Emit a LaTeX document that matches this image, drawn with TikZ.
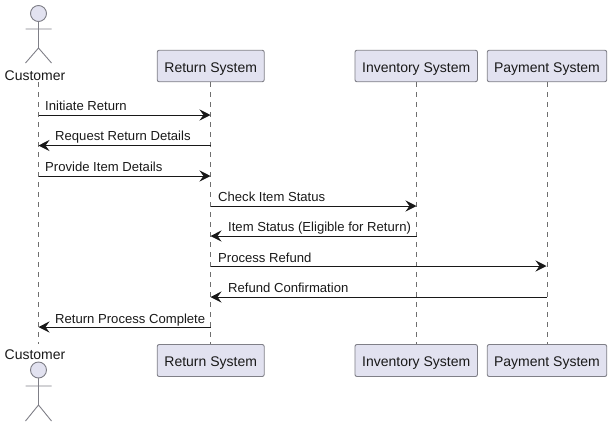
\documentclass[tikz,border=0pt]{standalone}
\usepackage{fontspec}
\setmainfont{Liberation Sans}
\usetikzlibrary{arrows.meta}
\definecolor{partfill}{HTML}{E2E2F0}
\definecolor{partline}{HTML}{7F7F87}
\definecolor{lifeline}{HTML}{6F6F6F}
\definecolor{msgline}{HTML}{181818}
\tikzset{
  part/.style={draw=partline,fill=partfill,rounded corners=2pt,line width=0.9pt,minimum height=31.5pt,inner sep=0pt,anchor=center,text height=12pt,text depth=0pt,font=\fontsize{14}{16}\selectfont,text=black!90},
  actorbody/.style={draw=partline,line width=0.9pt},
  actorlabel/.style={inner sep=0pt,anchor=base,font=\fontsize{14}{16}\selectfont,text=black!90},
  life/.style={draw=lifeline,line width=0.7pt,dash pattern=on 5pt off 5pt},
  msg/.style={draw=msgline,line width=0.9pt,-{Stealth[length=11pt,width=11pt,inset=4pt]}},
  msglabel/.style={inner sep=0pt,anchor=base west,font=\fontsize{13.1}{15}\selectfont,text=black!90}
}
\begin{document}
\begin{tikzpicture}[x=1pt,y=-1pt]
\useasboundingbox (0,0) rectangle (612,426);
% lifeline ends
\coordinate (cT) at (38.5,82);
\coordinate (cB) at (38.5,344);
\node[part,minimum width=107pt] (rT) at (210.7,66) {Return System};
\node[part,minimum width=122.5pt] (iT) at (416.2,66) {Inventory System};
\node[part,minimum width=119.5pt] (pT) at (547,66) {Payment System};
\node[part,minimum width=107pt,minimum height=32pt] (rB) at (210.7,360.5) {Return System};
\node[part,minimum width=122.5pt,minimum height=32pt] (iB) at (416.2,360.5) {Inventory System};
\node[part,minimum width=119.5pt,minimum height=32pt] (pB) at (547,360.5) {Payment System};
\draw[life] (cT) -- (cB);
\draw[life] (rT) -- (rB);
\draw[life] (iT) -- (iB);
\draw[life] (pT) -- (pB);
% actors
\node[actorlabel] (cuT) at (35,80) {Customer};
\node[actorlabel] (cuB) at (35,359) {Customer};
\draw[actorbody,fill=partfill] (38.5,13.5) circle (8pt);
\draw[actorbody] (38.5,21.5) -- (38.5,48) (25.5,29) -- (51.5,29) (25.5,63) -- (38.5,48) -- (51.5,63);
\draw[actorbody,fill=partfill] (38.5,370) circle (8pt);
\draw[actorbody] (38.5,378) -- (38.5,405) (25.5,386) -- (51.5,386) (25.5,421) -- (38.5,405) -- (51.5,421);
% message end points
\foreach \n/\y in {1/115,2/145.5,3/176,4/206,5/236,6/266,7/297,8/327}{
  \coordinate (c\n) at (38.5,\y);
  \coordinate (r\n) at (210.5,\y);
  \coordinate (i\n) at (416.5,\y);
  \coordinate (p\n) at (546.5,\y);
}
\draw[msg] (c1) -- (r1);
\draw[msg] (r2) -- (c2);
\draw[msg] (c3) -- (r3);
\draw[msg] (r4) -- (i4);
\draw[msg] (i5) -- (r5);
\draw[msg] (r6) -- (p6);
\draw[msg] (p7) -- (r7);
\draw[msg] (r8) -- (c8);
\node[msglabel] (l1) at (45,110) {Initiate Return};
\node[msglabel] (l2) at (55,140) {Request Return Details};
\node[msglabel] (l3) at (45,171) {Provide Item Details};
\node[msglabel] (l4) at (218,201) {Check Item Status};
\node[msglabel] (l5) at (228,231) {Item Status (Eligible for Return)};
\node[msglabel] (l6) at (218,262) {Process Refund};
\node[msglabel] (l7) at (228,292) {Refund Confirmation};
\node[msglabel] (l8) at (55,323) {Return Process Complete};
\end{tikzpicture}
\end{document}
